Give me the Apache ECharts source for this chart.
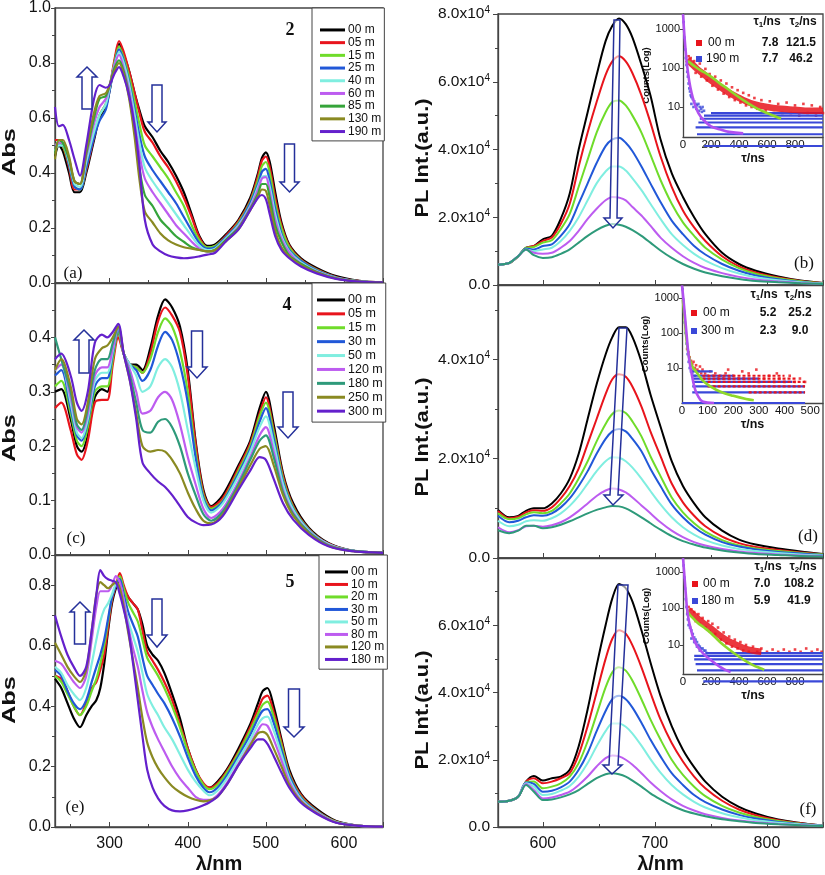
<!DOCTYPE html>
<html><head><meta charset="utf-8">
<script src="https://cdn.jsdelivr.net/npm/echarts@6/dist/echarts.min.js"></script>
<style>html,body{margin:0;padding:0;background:#fff}#c{width:825px;height:875px}</style>
</head><body><div id="c"></div>
<script>
// ---------- Panel (a): compound 2, absorbance ----------
const a_x = [230,235,240,248,255,262,270,280,287,295,300,306,312,318,325,332,338,345,355,365,375,385,395,405,415,425,435,450,465,480,490,495,500,505,512,520,530,545,565,590,620,650];
const a_names = ['00 m','05 m','15 m','25 m','40 m','60 m','85 m','130 m','190 m'];
const a_00 = [0.46,0.50,0.48,0.40,0.33,0.33,0.40,0.52,0.60,0.64,0.70,0.80,0.87,0.83,0.77,0.69,0.63,0.57,0.53,0.48,0.44,0.39,0.33,0.25,0.17,0.135,0.14,0.18,0.23,0.31,0.40,0.455,0.475,0.44,0.33,0.22,0.14,0.09,0.055,0.025,0.008,0.002];
const a_05 = [0.52,0.52,0.50,0.42,0.34,0.34,0.41,0.53,0.61,0.65,0.71,0.81,0.88,0.84,0.77,0.69,0.62,0.55,0.51,0.46,0.42,0.37,0.31,0.24,0.165,0.13,0.135,0.175,0.225,0.30,0.39,0.445,0.46,0.42,0.31,0.21,0.135,0.085,0.05,0.022,0.007,0.002];
const a_15 = [0.50,0.51,0.50,0.43,0.35,0.34,0.42,0.54,0.61,0.65,0.71,0.80,0.86,0.82,0.75,0.66,0.58,0.50,0.46,0.42,0.38,0.33,0.28,0.21,0.155,0.13,0.135,0.17,0.22,0.295,0.375,0.425,0.44,0.40,0.29,0.20,0.13,0.082,0.048,0.02,0.006,0.002];
const a_25 = [0.50,0.50,0.50,0.43,0.35,0.34,0.42,0.53,0.59,0.63,0.70,0.79,0.85,0.81,0.73,0.63,0.54,0.46,0.41,0.37,0.33,0.29,0.24,0.19,0.145,0.125,0.13,0.17,0.215,0.29,0.36,0.405,0.415,0.37,0.27,0.18,0.12,0.08,0.046,0.02,0.006,0.002];
const a_40 = [0.48,0.50,0.50,0.44,0.36,0.35,0.44,0.55,0.61,0.65,0.71,0.79,0.84,0.80,0.72,0.61,0.51,0.42,0.37,0.33,0.29,0.25,0.21,0.17,0.135,0.12,0.125,0.165,0.21,0.28,0.35,0.385,0.39,0.35,0.25,0.17,0.115,0.075,0.044,0.019,0.006,0.002];
const a_60 = [0.50,0.51,0.51,0.45,0.37,0.36,0.46,0.58,0.64,0.67,0.72,0.79,0.83,0.78,0.70,0.58,0.47,0.38,0.33,0.29,0.25,0.21,0.18,0.15,0.125,0.115,0.12,0.16,0.205,0.275,0.34,0.38,0.385,0.33,0.23,0.16,0.11,0.07,0.042,0.018,0.005,0.002];
const a_85 = [0.47,0.52,0.51,0.45,0.37,0.36,0.47,0.60,0.67,0.68,0.72,0.78,0.81,0.77,0.68,0.55,0.42,0.32,0.28,0.23,0.20,0.17,0.15,0.13,0.12,0.115,0.12,0.16,0.20,0.27,0.325,0.36,0.36,0.31,0.21,0.15,0.10,0.07,0.04,0.017,0.005,0.002];
const a_130 = [0.45,0.52,0.52,0.46,0.37,0.36,0.48,0.62,0.68,0.69,0.72,0.77,0.80,0.76,0.67,0.53,0.38,0.26,0.22,0.18,0.155,0.14,0.13,0.125,0.12,0.115,0.12,0.155,0.195,0.265,0.315,0.34,0.335,0.28,0.19,0.13,0.095,0.065,0.038,0.016,0.005,0.002];
const a_190 = [0.64,0.57,0.575,0.52,0.45,0.39,0.50,0.67,0.72,0.71,0.72,0.76,0.785,0.75,0.68,0.57,0.43,0.23,0.14,0.115,0.10,0.093,0.09,0.092,0.097,0.103,0.11,0.155,0.195,0.265,0.31,0.32,0.305,0.25,0.17,0.12,0.09,0.06,0.035,0.015,0.005,0.002];

// ---------- Panel (c): compound 4, absorbance ----------
const c_x = [230,238,250,258,264,272,281,290,297,304,311,318,326,334,342,352,362,371,380,390,400,410,420,430,445,465,480,492,500,510,522,535,555,580,610,650];
const c_names = ['00 m','05 m','15 m','30 m','50 m','120 m','180 m','250 m','300 m'];
const c_00 = [0.30,0.305,0.25,0.20,0.19,0.22,0.29,0.305,0.30,0.36,0.41,0.37,0.35,0.35,0.34,0.38,0.44,0.47,0.455,0.42,0.34,0.21,0.12,0.09,0.11,0.165,0.21,0.27,0.30,0.24,0.15,0.095,0.05,0.022,0.008,0.004];
const c_05 = [0.27,0.28,0.23,0.185,0.175,0.21,0.28,0.285,0.285,0.35,0.40,0.37,0.35,0.345,0.335,0.37,0.43,0.455,0.44,0.41,0.33,0.205,0.115,0.088,0.105,0.16,0.205,0.26,0.29,0.23,0.145,0.09,0.048,0.021,0.008,0.004];
const c_15 = [0.31,0.32,0.26,0.21,0.20,0.235,0.30,0.31,0.31,0.36,0.41,0.37,0.35,0.345,0.335,0.36,0.41,0.435,0.42,0.375,0.30,0.19,0.11,0.085,0.10,0.155,0.20,0.255,0.28,0.225,0.14,0.088,0.047,0.02,0.008,0.004];
const c_30 = [0.33,0.34,0.27,0.22,0.21,0.245,0.31,0.325,0.325,0.37,0.415,0.37,0.35,0.34,0.32,0.34,0.385,0.41,0.395,0.35,0.28,0.18,0.105,0.082,0.098,0.15,0.195,0.245,0.27,0.215,0.135,0.085,0.046,0.02,0.008,0.004];
const c_50 = [0.34,0.35,0.28,0.225,0.215,0.25,0.32,0.335,0.335,0.375,0.42,0.37,0.35,0.33,0.30,0.31,0.345,0.36,0.345,0.30,0.23,0.16,0.10,0.078,0.095,0.145,0.19,0.235,0.255,0.205,0.13,0.083,0.045,0.02,0.008,0.004];
const c_120 = [0.34,0.35,0.29,0.235,0.225,0.26,0.33,0.345,0.345,0.38,0.42,0.37,0.34,0.30,0.26,0.265,0.29,0.30,0.285,0.24,0.18,0.13,0.085,0.068,0.085,0.135,0.18,0.22,0.235,0.19,0.12,0.078,0.043,0.019,0.008,0.004];
const c_180 = [0.40,0.36,0.30,0.24,0.23,0.27,0.34,0.36,0.36,0.39,0.42,0.37,0.33,0.28,0.23,0.225,0.245,0.25,0.235,0.20,0.15,0.11,0.075,0.063,0.08,0.13,0.175,0.21,0.22,0.18,0.115,0.075,0.042,0.018,0.008,0.004];
const c_250 = [0.34,0.36,0.31,0.25,0.24,0.28,0.36,0.38,0.385,0.40,0.42,0.37,0.32,0.26,0.20,0.19,0.193,0.19,0.175,0.15,0.115,0.085,0.063,0.058,0.075,0.125,0.165,0.195,0.20,0.165,0.11,0.072,0.04,0.017,0.007,0.004];
const c_300 = [0.36,0.37,0.33,0.28,0.265,0.30,0.39,0.405,0.40,0.41,0.425,0.37,0.32,0.25,0.17,0.15,0.135,0.125,0.11,0.09,0.07,0.06,0.055,0.056,0.072,0.12,0.155,0.18,0.175,0.14,0.095,0.065,0.037,0.016,0.007,0.004];

// ---------- Panel (e): compound 5, absorbance ----------
const e_x = [230,238,246,254,262,270,277,283,288,293,298,303,308,313,318,324,330,336,342,348,355,362,370,380,390,400,410,420,428,438,450,465,480,490,496,502,510,520,530,545,565,590,620,650];
const e_names = ['00 m','10 m','20 m','30 m','50 m','80 m','120 m','180 m'];
const e_00 = [0.49,0.46,0.41,0.36,0.33,0.37,0.40,0.42,0.46,0.54,0.65,0.74,0.79,0.82,0.79,0.76,0.74,0.72,0.67,0.60,0.57,0.55,0.51,0.44,0.36,0.26,0.19,0.14,0.13,0.15,0.19,0.26,0.34,0.41,0.45,0.46,0.40,0.29,0.19,0.11,0.06,0.02,0.004,0.001];
const e_10 = [0.50,0.49,0.45,0.40,0.37,0.41,0.46,0.48,0.52,0.57,0.66,0.75,0.80,0.84,0.80,0.76,0.74,0.72,0.65,0.58,0.55,0.52,0.48,0.42,0.34,0.26,0.19,0.145,0.13,0.145,0.185,0.25,0.33,0.39,0.425,0.435,0.38,0.28,0.18,0.105,0.055,0.018,0.004,0.001];
const e_20 = [0.50,0.48,0.44,0.40,0.37,0.40,0.45,0.49,0.54,0.60,0.68,0.76,0.80,0.83,0.79,0.74,0.71,0.68,0.62,0.56,0.53,0.50,0.46,0.40,0.33,0.25,0.185,0.14,0.125,0.14,0.18,0.245,0.32,0.375,0.405,0.415,0.365,0.27,0.175,0.10,0.053,0.017,0.004,0.001];
const e_30 = [0.52,0.50,0.45,0.41,0.39,0.42,0.48,0.53,0.57,0.62,0.69,0.76,0.80,0.82,0.77,0.71,0.67,0.63,0.56,0.50,0.47,0.44,0.41,0.36,0.30,0.23,0.17,0.13,0.115,0.13,0.17,0.235,0.305,0.36,0.385,0.39,0.345,0.255,0.17,0.097,0.052,0.016,0.004,0.001];
const e_50 = [0.53,0.51,0.47,0.44,0.42,0.46,0.54,0.62,0.68,0.72,0.74,0.77,0.80,0.80,0.75,0.68,0.63,0.58,0.51,0.44,0.40,0.37,0.33,0.29,0.24,0.19,0.15,0.12,0.105,0.12,0.16,0.225,0.29,0.34,0.36,0.365,0.32,0.24,0.16,0.093,0.05,0.016,0.004,0.001];
const e_80 = [0.55,0.54,0.51,0.48,0.46,0.50,0.62,0.73,0.78,0.78,0.78,0.80,0.83,0.81,0.75,0.66,0.59,0.53,0.45,0.38,0.33,0.29,0.25,0.20,0.16,0.13,0.10,0.09,0.09,0.105,0.145,0.21,0.275,0.32,0.34,0.335,0.29,0.22,0.15,0.088,0.048,0.015,0.004,0.001];
const e_120 = [0.61,0.57,0.53,0.50,0.48,0.52,0.65,0.77,0.81,0.80,0.79,0.80,0.81,0.79,0.73,0.64,0.55,0.46,0.36,0.28,0.23,0.195,0.165,0.135,0.115,0.10,0.09,0.085,0.088,0.10,0.14,0.205,0.27,0.31,0.315,0.305,0.26,0.20,0.14,0.085,0.046,0.015,0.004,0.001];
const e_180 = [0.70,0.63,0.57,0.53,0.50,0.53,0.65,0.77,0.85,0.83,0.82,0.815,0.81,0.77,0.72,0.65,0.54,0.42,0.30,0.19,0.13,0.095,0.07,0.055,0.052,0.055,0.062,0.072,0.082,0.10,0.14,0.205,0.26,0.29,0.29,0.275,0.235,0.18,0.13,0.08,0.044,0.014,0.004,0.001];

// ---------- PL panels (b), (d), (f): intensity in units of 1e4 ----------
const pl_x = [560,570,578,585,592,600,608,616,624,632,640,648,656,662,668,674,680,688,696,705,715,725,735,745,760,775,790,810,830,850];
const b_1 = [0.60,0.65,0.85,1.10,1.15,1.35,1.45,1.95,2.7,4.0,5.1,6.2,7.2,7.65,7.87,7.7,7.3,6.5,5.6,4.3,3.3,2.6,2.0,1.5,0.95,0.62,0.42,0.25,0.13,0.06];
const b_2 = [0.60,0.65,0.85,1.10,1.15,1.30,1.40,1.80,2.4,3.5,4.5,5.4,6.2,6.6,6.75,6.6,6.25,5.6,4.8,3.8,2.9,2.2,1.7,1.3,0.85,0.55,0.37,0.22,0.12,0.06];
const b_3 = [0.60,0.65,0.85,1.10,1.12,1.25,1.32,1.65,2.1,2.9,3.7,4.5,5.1,5.4,5.45,5.3,5.0,4.5,3.85,3.1,2.4,1.85,1.45,1.1,0.75,0.5,0.33,0.2,0.11,0.05];
const b_4 = [0.60,0.65,0.85,1.08,1.05,1.15,1.2,1.45,1.8,2.4,3.0,3.6,4.1,4.3,4.35,4.2,3.95,3.5,3.0,2.45,1.9,1.5,1.15,0.9,0.62,0.42,0.28,0.17,0.09,0.04];
const b_5 = [0.60,0.65,0.85,1.05,1.0,1.05,1.1,1.3,1.6,2.0,2.5,3.0,3.35,3.5,3.5,3.38,3.15,2.8,2.4,1.95,1.5,1.18,0.92,0.72,0.5,0.34,0.23,0.14,0.08,0.04];
const b_6 = [0.60,0.65,0.85,1.05,0.95,0.92,0.95,1.1,1.3,1.6,1.95,2.25,2.5,2.6,2.58,2.5,2.3,2.05,1.75,1.4,1.1,0.85,0.65,0.5,0.35,0.24,0.16,0.1,0.06,0.03];
const b_7 = [0.60,0.65,0.85,1.05,0.88,0.80,0.82,0.92,1.05,1.25,1.45,1.62,1.75,1.8,1.78,1.72,1.62,1.45,1.25,1.02,0.8,0.62,0.48,0.37,0.26,0.18,0.12,0.08,0.05,0.03];
const d_1 = [0.97,0.82,0.85,0.95,1.0,1.0,1.1,1.3,1.6,2.1,2.8,3.5,4.1,4.45,4.65,4.65,4.45,3.95,3.3,2.65,1.95,1.45,1.1,0.82,0.55,0.37,0.27,0.19,0.13,0.08];
const d_2 = [0.95,0.8,0.83,0.92,0.96,0.95,1.02,1.2,1.45,1.8,2.3,2.8,3.3,3.6,3.7,3.65,3.45,3.05,2.55,2.05,1.5,1.12,0.85,0.64,0.43,0.3,0.22,0.16,0.11,0.07];
const d_3 = [0.9,0.78,0.8,0.88,0.92,0.9,0.95,1.1,1.3,1.6,1.95,2.35,2.7,2.9,2.97,2.92,2.75,2.45,2.05,1.65,1.22,0.92,0.7,0.53,0.36,0.25,0.19,0.14,0.1,0.07];
const d_4 = [0.85,0.72,0.75,0.82,0.86,0.85,0.9,1.02,1.2,1.45,1.75,2.1,2.4,2.55,2.6,2.55,2.4,2.15,1.8,1.45,1.08,0.82,0.62,0.47,0.32,0.23,0.17,0.12,0.09,0.06];
const d_5 = [0.75,0.64,0.67,0.74,0.76,0.75,0.8,0.9,1.05,1.25,1.5,1.75,1.95,2.03,2.02,1.95,1.82,1.6,1.35,1.08,0.82,0.62,0.47,0.36,0.25,0.18,0.14,0.1,0.07,0.05];
const d_6 = [0.62,0.52,0.56,0.64,0.65,0.63,0.66,0.72,0.82,0.95,1.1,1.25,1.36,1.4,1.38,1.32,1.22,1.06,0.9,0.72,0.55,0.42,0.32,0.25,0.18,0.13,0.1,0.07,0.05,0.04];
const d_7 = [0.56,0.5,0.55,0.65,0.65,0.6,0.62,0.67,0.74,0.82,0.9,0.97,1.02,1.05,1.04,1.0,0.93,0.82,0.7,0.57,0.44,0.34,0.27,0.21,0.15,0.11,0.08,0.06,0.04,0.03];
const f_1 = [0.75,0.78,0.9,1.35,1.52,1.38,1.45,1.5,1.7,2.4,3.5,4.8,6.0,6.8,7.23,7.1,6.7,5.85,4.9,3.9,3.0,2.3,1.78,1.35,0.9,0.6,0.4,0.22,0.12,0.04];
const f_2 = [0.75,0.78,0.9,1.35,1.45,1.3,1.35,1.45,1.6,2.15,3.0,4.0,5.0,5.6,5.85,5.75,5.4,4.75,4.0,3.2,2.5,1.95,1.5,1.15,0.78,0.52,0.35,0.2,0.11,0.04];
const f_3 = [0.75,0.78,0.9,1.33,1.35,1.15,1.2,1.3,1.5,1.9,2.55,3.35,4.15,4.6,4.75,4.65,4.35,3.8,3.2,2.6,2.0,1.55,1.2,0.92,0.63,0.43,0.3,0.18,0.1,0.04];
const f_4 = [0.75,0.78,0.9,1.32,1.28,1.05,1.08,1.18,1.35,1.7,2.2,2.85,3.45,3.8,3.9,3.8,3.55,3.1,2.6,2.1,1.6,1.25,0.95,0.74,0.52,0.36,0.25,0.15,0.09,0.04];
const f_5 = [0.75,0.78,0.9,1.3,1.2,0.95,0.98,1.08,1.22,1.5,1.9,2.4,2.85,3.08,3.08,2.98,2.78,2.42,2.02,1.62,1.25,0.97,0.75,0.58,0.41,0.29,0.2,0.13,0.08,0.04];
const f_6 = [0.75,0.78,0.9,1.28,1.1,0.85,0.88,0.95,1.05,1.25,1.5,1.8,2.05,2.13,2.1,2.0,1.85,1.6,1.33,1.07,0.82,0.63,0.49,0.38,0.27,0.19,0.14,0.09,0.06,0.03];
const f_7 = [0.75,0.78,0.9,1.25,1.05,0.8,0.82,0.88,0.97,1.1,1.28,1.45,1.57,1.6,1.57,1.5,1.38,1.2,1.0,0.82,0.64,0.5,0.4,0.32,0.23,0.17,0.12,0.08,0.05,0.03];

// ---------- Insets: decay curves [time ns, counts] ----------
const ib_redBand = [[30,165],[60,130],[100,95],[150,68],[200,48],[250,36],[300,27],[350,21],[400,17],[450,14],[500,12],[600,10],[700,9],[800,8.5],[900,8],[1000,8]];
const ib_red = [[40,200],[55,180],[80,150],[90,75],[120,130],[130,60],[160,95],[170,48],[190,70],[210,35],[230,60],[250,28],[270,48],[290,22],[310,40],[330,18],[350,32],[370,15],[390,27],[410,13],[430,23],[450,11],[470,20],[490,10],[510,17],[530,9],[560,15],[590,8],[620,14],[650,7],[680,12],[710,7],[740,13],[770,7],[800,11],[830,6],[860,12],[890,7],[920,11],[950,6],[980,10],[1000,7]];
const ib_blue = [[5,1500],[10,600],[15,300],[20,180],[25,120],[30,80],[35,60],[40,40],[45,30],[50,25],[55,20],[60,18],[70,16],[80,14],[90,12],[100,11],[110,12],[120,10],[130,9],[140,10],[150,8],[60,12],[75,10],[95,9],[115,8],[135,7.5]];
const ib_blueLevels = [[1,150,1000],[2,100,1000],[3,90,1000],[4,110,1000],[5,120,1000],[6,150,1000],[7,200,1000]];
const ib_green = [[35,150],[100,100],[150,78],[200,60],[260,41],[320,29],[380,20],[450,13.5],[520,9.5],[600,7],[700,5]];
const ib_purple = [[0,2400],[10,700],[20,250],[30,110],[45,45],[60,24],[80,13],[110,7],[150,4.5],[200,3.2],[260,2.7],[330,2.3],[430,2.1]];

const id_red = [[20,35],[25,28],[30,20],[35,16],[40,13],[45,15],[50,10],[55,12],[60,9],[65,8],[70,11],[75,7],[80,9],[90,7],[100,6],[110,8],[120,6],[130,7],[140,5],[150,6],[160,5],[170,7],[185,5],[200,6],[220,5],[240,5],[260,7],[280,5],[300,4],[320,5],[340,6],[360,4],[380,5],[400,4],[420,6],[440,4],[460,5],[480,4],[290,9],[370,7],[180,9],[235,8]];
const id_redLevels = [[2,260,480],[3,100,480],[4,100,480],[5,80,450],[6,80,400]];
const id_blue = [[2,1800],[5,900],[8,400],[11,200],[14,100],[18,50],[22,25],[26,15],[30,10],[35,8],[40,7],[45,9],[50,6]];
const id_blueLevels = [[1,0,480],[2,40,480],[3,40,480],[4,40,430],[5,40,300],[6,40,200],[8,35,120]];
const id_green = [[3,900],[8,400],[14,120],[20,45],[28,20],[36,13],[44,10],[60,7],[83,4.2],[110,3],[150,2.1],[200,1.6],[250,1.3],[280,1.2]];
const id_purple = [[0,2300],[4,1200],[8,600],[12,280],[18,90],[24,30],[30,14],[40,5.5],[50,2.6],[60,1.7],[80,1.1],[125,1]];

const if_redBand = [[36,90],[70,70],[100,55],[145,40],[200,28],[264,18],[320,13],[383,10],[440,8],[500,7],[560,6.5]];
const if_red = [[40,110],[60,95],[80,80],[90,45],[110,70],[120,38],[140,55],[160,30],[180,45],[190,24],[210,38],[230,20],[250,30],[270,14],[290,22],[310,11],[330,17],[350,9],[370,14],[390,8],[410,12],[430,7],[450,10],[470,6.5],[500,9],[530,6.5],[560,8],[600,6.5],[640,7.5],[680,6.5],[720,7.5],[760,6.5],[800,7.5],[840,6.5],[880,8],[920,6.5],[960,7.5],[990,6.5]];
const if_blue = [[5,1500],[10,700],[15,350],[20,180],[25,110],[30,70],[35,50],[40,35],[50,30],[60,25],[70,20],[80,16],[90,14],[100,12],[110,10],[120,9],[130,8],[140,8],[150,7],[160,7],[170,6],[60,15],[80,12],[100,9],[120,7]];
const if_blueLevels = [[1,145,1000],[2,100,1000],[3,90,1000],[4,80,1000],[5,80,1000],[6,160,1000]];
const if_green = [[30,100],[36,78],[60,60],[100,42],[145,31],[200,21],[264,12],[320,8],[383,5.3],[440,3.8],[500,2.8],[540,2.4],[580,2.1]];
const if_purple = [[0,2400],[8,1000],[15,450],[22,200],[28,105],[40,50],[55,28],[72,16],[100,9.5],[145,5.8],[200,3.8],[264,2.5],[300,2.1],[340,1.8]];

// ---------- build ----------
const FONT = "'Liberation Sans', Arial, sans-serif";
const SERIF = "'Liberation Serif', 'Times New Roman', serif";
const AX = '#444';
const BLACK='#000000', RED='#e8141c', GRN='#6fdc2a', BLU='#2158d8', CYA='#80eee0', VIO='#bd5cf0', DGR='#35a43a', OLV='#8a8a22', PUR='#6420cc', TEAL='#2e9a7a';
const colA = [BLACK,RED,GRN,BLU,CYA,VIO,DGR,OLV,PUR];
const colC = [BLACK,RED,GRN,BLU,CYA,VIO,TEAL,OLV,PUR];
const colE = [BLACK,RED,GRN,BLU,CYA,VIO,OLV,PUR];
const colP = [BLACK,RED,GRN,BLU,CYA,VIO,TEAL];

const zip = (xs, ys) => xs.map((x, i) => [x, ys[i]]);
const series = [];
function addLines(gi, prefix, names, xs, arrs, cols, lw) {
  arrs.forEach((ys, i) => series.push({
    type: 'line', name: prefix + '|' + names[i], xAxisIndex: gi, yAxisIndex: gi,
    data: zip(xs, ys), symbol: 'none', smooth: 0.3,
    lineStyle: { color: cols[i], width: lw }, itemStyle: { color: cols[i] }, animation: false
  }));
}
addLines(0, 'a', a_names, a_x, [a_00,a_05,a_15,a_25,a_40,a_60,a_85,a_130,a_190], colA, 2.2);
addLines(1, 'c', c_names, c_x, [c_00,c_05,c_15,c_30,c_50,c_120,c_180,c_250,c_300], colC, 2.2);
addLines(2, 'e', e_names, e_x, [e_00,e_10,e_20,e_30,e_50,e_80,e_120,e_180], colE, 2.2);
const plNames = ['1','2','3','4','5','6','7'];
addLines(3, 'b', plNames, pl_x, [b_1,b_2,b_3,b_4,b_5,b_6,b_7], colP, 2);
addLines(4, 'd', plNames, pl_x, [d_1,d_2,d_3,d_4,d_5,d_6,d_7], colP, 2);
addLines(5, 'f', plNames, pl_x, [f_1,f_2,f_3,f_4,f_5,f_6,f_7], colP, 2);

function addInset(gi, redBand, red, redLevels, blue, blueLevels, green, purple) {
  const base = { xAxisIndex: gi, yAxisIndex: gi, animation: false, silent: true };
  blueLevels.forEach(l => series.push(Object.assign({ type: 'line', data: [[l[1], l[0]], [l[2], l[0]]], symbol: 'none', clip: false, lineStyle: { color: '#3a48d8', width: 2.2 } }, base)));
  if (redBand) series.push(Object.assign({ type: 'line', data: redBand, symbol: 'none', smooth: 0.4, lineStyle: { color: 'rgba(232,20,28,0.85)', width: 6.5 } }, base));
  redLevels.forEach(l => series.push(Object.assign({ type: 'line', data: [[l[1], l[0]], [l[2], l[0]]], symbol: 'none', clip: false, lineStyle: { color: '#e8141c', width: 2.2, type: [3, 2] } }, base)));
  series.push(Object.assign({ type: 'scatter', data: red, symbolSize: 2.6, symbol: 'rect', itemStyle: { color: '#e8141c' } }, base));
  series.push(Object.assign({ type: 'scatter', data: blue, symbolSize: 2.6, symbol: 'rect', itemStyle: { color: '#3a48d8' } }, base));
  series.push(Object.assign({ type: 'line', data: green, symbol: 'none', smooth: 0.4, lineStyle: { color: '#8ed82a', width: 2.6 } }, base));
  series.push(Object.assign({ type: 'line', data: purple, symbol: 'none', smooth: 0.4, lineStyle: { color: '#b050f0', width: 2.6 } }, base));
}
addInset(6, ib_redBand, ib_red, [], ib_blue, ib_blueLevels, ib_green, ib_purple);
addInset(7, null, id_red, id_redLevels, id_blue, id_blueLevels, id_green, id_purple);
addInset(8, if_redBand, if_red, [], if_blue, if_blueLevels, if_green, if_purple);

const grids = [
  { left: 55, top: 8, width: 328, height: 275 },
  { left: 55, top: 283, width: 328, height: 272 },
  { left: 55, top: 555, width: 328, height: 273 },
  { left: 498, top: 14, width: 325, height: 271 },
  { left: 498, top: 285, width: 325, height: 273 },
  { left: 498, top: 558, width: 325, height: 270 },
  { left: 683, top: 14, width: 140, height: 123 },
  { left: 682, top: 285, width: 141, height: 118 },
  { left: 683, top: 558, width: 140, height: 116 }
].map((g, i) => Object.assign({ show: i < 6, borderColor: AX, borderWidth: 1.3, backgroundColor: 'transparent', containLabel: false }, g));

const lineS = { show: true, lineStyle: { color: AX, width: 1.3 } };
function absX(gi, showLab) {
  return { gridIndex: gi, type: 'value', min: 230, max: 650, axisLine: lineS,
    axisTick: { show: true, inside: true, length: 5, lineStyle: { color: AX } },
    minorTick: { show: true, splitNumber: 2, length: 3, lineStyle: { color: AX } },
    splitLine: { show: false },
    axisLabel: { show: showLab, fontFamily: FONT, fontSize: 16, color: '#111', margin: 9, showMinLabel: false, showMaxLabel: false },
    name: showLab ? 'λ/nm' : '', nameLocation: 'middle', nameGap: 27,
    nameTextStyle: { fontFamily: FONT, fontWeight: 'bold', fontSize: 20, color: '#111' } };
}
function plX(gi, showLab) {
  const o = absX(gi, showLab); o.min = 560; o.max = 850; o.splitNumber = 3; return o;
}
function absY(gi, max, interval, showMax) {
  return { gridIndex: gi, type: 'value', min: 0, max: max, interval: interval, axisLine: lineS,
    axisTick: { show: true, length: 4, lineStyle: { color: AX } },
    minorTick: { show: true, splitNumber: 2, length: 3, lineStyle: { color: AX } },
    splitLine: { show: false },
    axisLabel: { fontFamily: FONT, fontSize: 16, color: '#111', margin: 4, showMaxLabel: showMax, formatter: v => v.toFixed(1) } };
}
function plY(gi, max, showMax) {
  return { gridIndex: gi, type: 'value', min: 0, max: max, interval: 2, axisLine: lineS,
    axisTick: { show: true, length: 5, lineStyle: { color: AX } },
    minorTick: { show: true, splitNumber: 2, length: 3, lineStyle: { color: AX } },
    splitLine: { show: false },
    axisLabel: { fontFamily: FONT, fontSize: 15.5, color: '#111', margin: 8, showMaxLabel: showMax,
      formatter: v => v === 0 ? '{m|0.0}' : '{m|' + v.toFixed(1) + 'x10}{s|4}',
      rich: { m: { fontFamily: FONT, fontSize: 15.5, color: '#111', lineHeight: 18 },
              s: { fontFamily: FONT, fontSize: 10, color: '#111', lineHeight: 18, verticalAlign: 'top' } } } };
}
function inX(gi, max, interval) {
  return { gridIndex: gi, type: 'value', min: 0, max: max, interval: interval, axisLine: lineS,
    axisTick: { show: false }, splitLine: { show: false },
    axisLabel: { fontFamily: FONT, fontSize: 11.5, color: '#111', margin: 2, showMaxLabel: false },
    name: 'τ/ns', nameLocation: 'middle', nameGap: 14,
    nameTextStyle: { fontFamily: FONT, fontWeight: 'bold', fontSize: 12.5, color: '#111' } };
}
function inY(gi, min, max) {
  return { gridIndex: gi, type: 'log', logBase: 10, min: min, max: max, axisLine: lineS,
    axisTick: { show: true, length: 3, lineStyle: { color: AX } }, splitLine: { show: false },
    axisLabel: { fontFamily: FONT, fontSize: 11, color: '#111', margin: 3, showMinLabel: false, showMaxLabel: false,
      formatter: v => String(Math.round(v)) },
    name: 'Counts(Log)', nameLocation: 'middle', nameGap: 25,
    nameTextStyle: { fontFamily: FONT, fontWeight: 'bold', fontSize: 9.5, color: '#111' } };
}

const xAxes = [absX(0,false), absX(1,false), absX(2,true), plX(3,false), plX(4,false), plX(5,true),
  inX(6,1000,200), inX(7,550,100), inX(8,1000,200)];
const yAxes = [absY(0,1.0,0.2,true), absY(1,0.5,0.1,false), absY(2,0.9,0.2,false),
  plY(3,8,true), plY(4,5.5,false), plY(5,8,false),
  inY(6,1.7,2425), inY(7,1,2350), inY(8,1.6,2410)];

const legFmt = n => n.split('|')[1];
function leg(prefix, names, left, top, pad, iw, lh, fs) {
  return { data: names.map(n => prefix + '|' + n), left: left, top: top, orient: 'vertical', itemGap: 0,
    itemWidth: iw, itemHeight: 3, icon: 'rect', padding: pad, borderColor: AX, borderWidth: 1,
    backgroundColor: '#fff', selectedMode: false, formatter: legFmt,
    textStyle: { fontFamily: FONT, fontSize: fs, lineHeight: lh, color: '#111', padding: [0,0,0,-2] } };
}
const legends = [
  leg('a', a_names, 312, 8, [15.6, 3, 3, 8], 25, 12.7, 12),
  leg('c', c_names, 312, 283, [10, 3, 4, 5], 28, 13.9, 12.5),
  leg('e', e_names, 319, 555, [10.7, 3, 3.5, 6], 23, 12.5, 12)
];

// annotation graphics
const NAVY = '#24309a';
function upArrow(cx, top, bottom, hw, sw, hh) {
  return [[cx, top], [cx + hw/2, top + hh], [cx + sw/2, top + hh], [cx + sw/2, bottom], [cx - sw/2, bottom], [cx - sw/2, top + hh], [cx - hw/2, top + hh]];
}
function downArrow(cx, top, tip, hw, sw, hh) {
  return [[cx - sw/2, top], [cx + sw/2, top], [cx + sw/2, tip - hh], [cx + hw/2, tip - hh], [cx, tip], [cx - hw/2, tip - hh], [cx - sw/2, tip - hh]];
}
const arrowPts = [
  upArrow(87, 67, 109, 20, 10, 10), downArrow(157, 85, 132, 18, 10, 10), downArrow(289.5, 144, 192, 19, 10, 10),
  upArrow(84, 330, 373, 20, 10, 10), downArrow(197, 331, 378, 20, 11, 11), downArrow(288, 392, 438, 20, 10, 11),
  upArrow(80, 602, 644, 20, 11, 10), downArrow(157, 599, 647, 20, 10, 12), downArrow(294, 689, 737, 20, 11, 10),
  [[614,20],[620,20],[617,218],[622,218],[613,228],[604,218],[610,218]],
  [[619,328],[627,328],[618,495],[623,495],[613,505],[604,495],[610,495]],
  [[618,585],[628,585],[618,765],[622,765],[612,774],[603,765],[609,765]]
];
const graphics = arrowPts.map(p => ({ type: 'polygon', shape: { points: p }, style: { fill: 'rgba(255,255,255,0.6)', stroke: NAVY, lineWidth: 1.5 }, z: 50 }));

function txt(x, y, text, font, align) {
  return { type: 'text', x: x, y: y, z: 60, style: { text: text, font: font, fill: '#111', align: align || 'center', verticalAlign: 'middle' } };
}
// vertical axis titles (stretched along their reading direction like the original)
function vtitle(x, y, text, size, stretch) {
  return { type: 'text', x: x, y: y, rotation: Math.PI / 2, scaleX: stretch, z: 60,
    style: { text: text, font: 'bold ' + size + 'px ' + FONT, fill: '#111', align: 'center', verticalAlign: 'middle' } };
}
graphics.push(vtitle(10, 152, 'Abs', 17.5, 1.45), vtitle(10, 438, 'Abs', 17.5, 1.45), vtitle(10, 700, 'Abs', 17.5, 1.45));
graphics.push(vtitle(423, 158, 'PL Int.(a.u.)', 17.5, 1.25), vtitle(423, 437, 'PL Int.(a.u.)', 17.5, 1.25), vtitle(423, 710, 'PL Int.(a.u.)', 17.5, 1.25));

const serifB = 'bold 18px ' + SERIF, serifN = '17px ' + SERIF, boldS = 'bold 12px ' + FONT, normS = '12px ' + FONT;
graphics.push(txt(290, 30, '2', serifB), txt(287, 305, '4', serifB), txt(290, 582, '5', serifB));
graphics.push(txt(73, 274, '(a)', serifN), txt(76, 539, '(c)', serifN), txt(75, 808, '(e)', serifN));
graphics.push(txt(804, 264, '(b)', serifN), txt(808, 537, '(d)', serifN), txt(808, 810, '(f)', serifN));
function tauHead(x, y, k) {
  return { type: 'text', x: x, y: y, z: 60, style: { text: '{t|τ}{s|' + k + '}{t|/ns}', align: 'center', verticalAlign: 'middle',
    rich: { t: { font: boldS, fill: '#111', lineHeight: 14 }, s: { font: 'bold 8px ' + FONT, fill: '#111', lineHeight: 14, verticalAlign: 'bottom' } } } };
}
function insetText(h, r1, r2, n1, n2, sqx, tx) {
  const out = [tauHead(h[0], h[2], 1), tauHead(h[1], h[2], 2)];
  out.push(txt(h[3], r1[0], r1[1], boldS), txt(h[4], r1[0], r1[2], boldS));
  out.push(txt(h[3], r2[0], r2[1], boldS), txt(h[4], r2[0], r2[2], boldS));
  out.push({ type: 'rect', shape: { x: sqx, y: r1[0] - 3, width: 6, height: 6 }, style: { fill: '#e8141c' }, z: 60 });
  out.push({ type: 'rect', shape: { x: sqx, y: r2[0] - 3, width: 6, height: 6 }, style: { fill: '#3a48d8' }, z: 60 });
  out.push(txt(tx + 2, r1[0], n1, normS, 'left'), txt(tx, r2[0], n2, normS, 'left'));
  return out;
}
graphics.push(...insetText([767, 803, 22, 770, 801], [43, '7.8', '121.5'], [59, '7.7', '46.2'], '00 m', '190 m', 696, 706));
graphics.push(...insetText([764, 798, 295, 768, 800], [313, '5.2', '25.2'], [331, '2.3', '9.0'], '00 m', '300 m', 691, 701));
graphics.push(...insetText([768, 803, 567, 762, 799], [584, '7.0', '108.2'], [601, '5.9', '41.9'], '00 m', '180 m', 692, 701));

const chart = echarts.init(document.getElementById('c'), null, { renderer: 'canvas' });
chart.setOption({
  animation: false,
  backgroundColor: '#fff',
  grid: grids, xAxis: xAxes, yAxis: yAxes, legend: legends, series: series, graphic: graphics
});
</script></body></html>
